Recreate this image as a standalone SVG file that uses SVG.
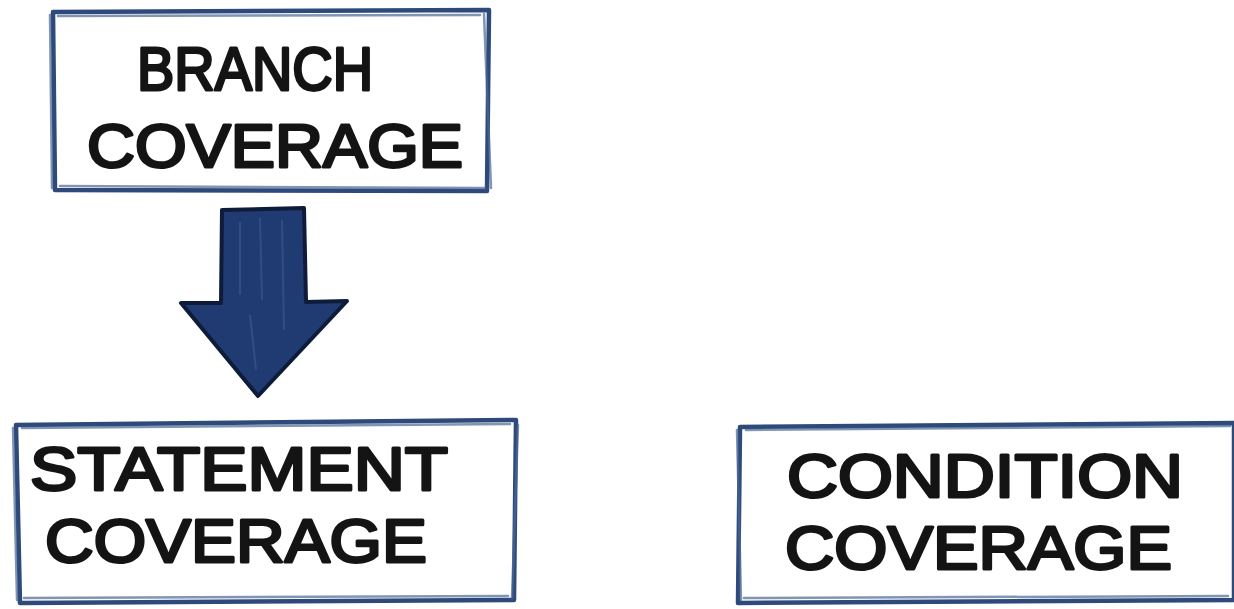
<svg xmlns="http://www.w3.org/2000/svg" width="1234" height="609" viewBox="0 0 1234 609">
<style>
.frame{fill:#ffffff;stroke:#2e4a7a;stroke-width:4.5;stroke-linejoin:round;stroke-linecap:round}
.sketch{fill:none;stroke:#4a6794;stroke-width:2.5;stroke-opacity:0.7;stroke-linecap:round}
.lbl{font-family:"Liberation Sans","DejaVu Sans",sans-serif;font-size:62px;fill:#141414;stroke:#141414;stroke-width:3;stroke-linejoin:round}
</style>
<rect width="1234" height="609" fill="#ffffff"/>
<g id="branch">
<path class="frame" d="M53 12 L489 10 L487 191 L55 190 Z"/>
<path class="sketch" d="M58 16 L480 15 M484 14 L491 188 M60 186 L485 188 M50 15 L52 188"/>
<text class="lbl" x="137" y="90" textLength="236" lengthAdjust="spacingAndGlyphs">BRANCH</text>
<text class="lbl" x="87" y="167" textLength="376" lengthAdjust="spacingAndGlyphs">COVERAGE</text>
</g>
<g id="statement">
<path class="frame" d="M16 425 L516 420 L514 600 L20 603 Z"/>
<path class="sketch" d="M22 428 L510 424 M518 425 L512 598 M24 598 L508 596 M13 428 L17 600"/>
<text class="lbl" x="30" y="490" textLength="418" lengthAdjust="spacingAndGlyphs">STATEMENT</text>
<text class="lbl" x="45" y="562" textLength="382" lengthAdjust="spacingAndGlyphs">COVERAGE</text>
</g>
<g id="condition">
<path class="frame" d="M740 427 L1234 423 L1234 600 L738 603 Z"/>
<path class="sketch" d="M746 430 L1230 426 M744 598 L1228 596 M737 430 L741 600"/>
<text class="lbl" x="787" y="497" textLength="396" lengthAdjust="spacingAndGlyphs">CONDITION</text>
<text class="lbl" x="785" y="569" textLength="387" lengthAdjust="spacingAndGlyphs">COVERAGE</text>
</g>
<g id="connectors">
<path d="M222 210 L304 208 L306 302 L347 301 L258 396 L181 303 L221 303 Z" fill="#1f3b72" stroke="#0e1c3a" stroke-width="4" stroke-linejoin="round"/>
<path d="M240 222 L240 295 M260 218 L262 300 M282 220 L284 330 M250 315 L256 370" fill="none" stroke="#3a5a9a" stroke-width="2" stroke-opacity="0.6"/>
</g>
</svg>
